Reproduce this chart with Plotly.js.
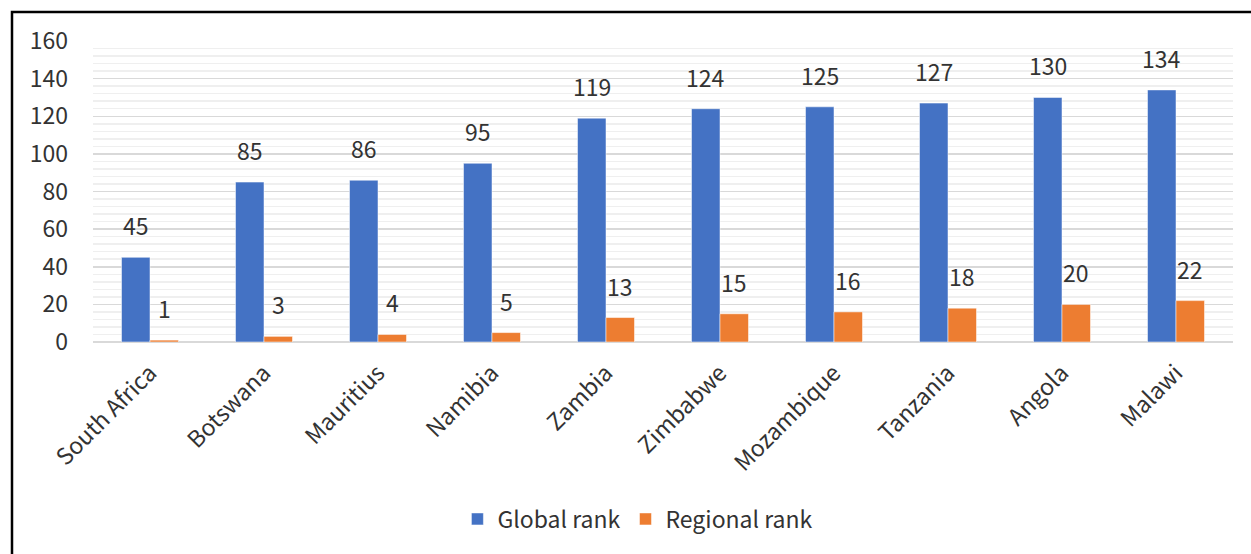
<!DOCTYPE html>
<html><head><meta charset="utf-8">
<script src="https://cdn.plot.ly/plotly-3.0.1.min.js"></script>
<style>html,body{margin:0;padding:0;background:#fff;}#chart{width:1251px;height:554px;}</style>
</head><body><div id="chart"></div>
<script>
const countries = ["South Africa","Botswana","Mauritius","Namibia","Zambia","Zimbabwe","Mozambique","Tanzania","Angola","Malawi"];
const globalRank = [45,85,86,95,119,124,125,127,130,134];
const regionalRank = [1,3,4,5,13,15,16,18,20,22];
const seriesNames = ["Global rank","Regional rank"];

const FONT = "'Noto Sans CJK JP', 'Noto Sans', sans-serif";
const TXT = "#333333";
const FS = 23;
const W = 1251, H = 554;
const M = {l:93, r:18, t:41, b:212};
const catW = (W - M.l - M.r) / countries.length;
const bargap = 0.5;
const barW = catW * (1 - bargap) / 2;

const traces = [
  {type:"bar", name:seriesNames[0], x:countries, y:globalRank, marker:{color:"#4472C4", line:{color:"rgba(255,255,255,0.5)", width:1}}, hoverinfo:"x+y"},
  {type:"bar", name:seriesNames[1], x:countries, y:regionalRank, marker:{color:"#ED7D31", line:{color:"rgba(255,255,255,0.5)", width:1}}, hoverinfo:"x+y"}
];

const annotations = [];
[globalRank, regionalRank].forEach((vals, si) => {
  vals.forEach((v, i) => {
    annotations.push({x:countries[i], y:v, xref:"x", yref:"y", text:String(v), showarrow:false,
      xshift:(si === 0 ? -1 : 1) * barW / 2, yshift:32, yanchor:"middle",
      font:{family:FONT, size:FS, color:TXT}});
  });
});

const layout = {
  width:W, height:H,
  margin:M,
  paper_bgcolor:"#fff", plot_bgcolor:"#fff",
  barmode:"group", bargap:bargap, bargroupgap:0,
  font:{family:FONT, size:FS, color:TXT},
  xaxis:{type:"category", tickangle:-45, showgrid:false, zeroline:false, showline:false, ticks:"",
    ticklabelstandoff:12, tickfont:{family:FONT, size:FS, color:TXT}},
  yaxis:{range:[0,160], dtick:20, showgrid:true, gridcolor:"#d9d9d9", gridwidth:1.5,
    minor:{dtick:4, showgrid:true, gridcolor:"#efefef", gridwidth:1.5},
    zeroline:true, zerolinecolor:"#d9d9d9", zerolinewidth:2, showline:false, ticks:"",
    ticklabelstandoff:24, tickfont:{family:FONT, size:FS, color:TXT}},
  showlegend:true,
  legend:{orientation:"h", x:0.478, xanchor:"center", y:-0.588, yanchor:"middle",
    font:{family:FONT, size:FS, color:TXT}, traceorder:"normal", itemwidth:30},
  annotations:annotations,
  shapes:[{type:"rect", xref:"paper", yref:"paper",
    x0:(12 - M.l)/(W - M.l - M.r), x1:1.5, y0:-2, y1:(H - M.b - 12)/(H - M.t - M.b),
    line:{color:"#000", width:2.5}, fillcolor:"rgba(0,0,0,0)", layer:"below"}]
};
Plotly.newPlot("chart", traces, layout, {displayModeBar:false, staticPlot:true});
</script></body></html>
